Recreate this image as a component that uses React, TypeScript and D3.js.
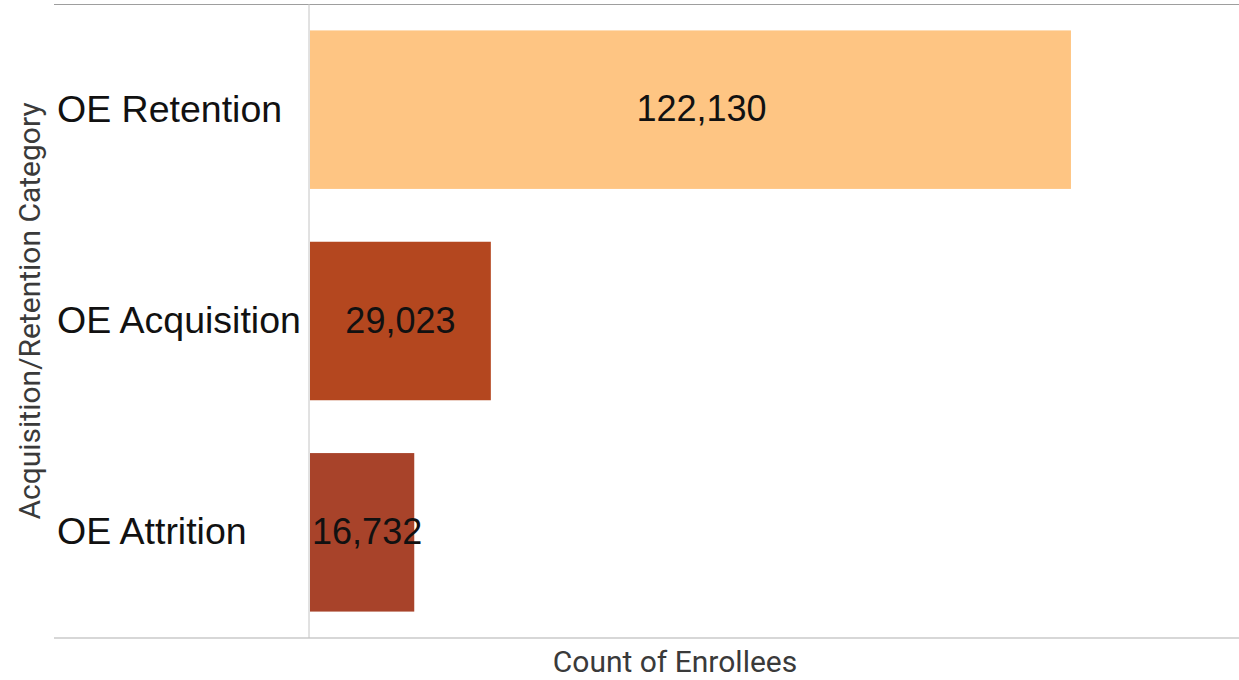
import React from "react";
import * as d3 from "d3";

// Enrollee counts by acquisition/retention category
const categories = ["OE Retention", "OE Acquisition", "OE Attrition"];
const counts = [122130, 29023, 16732];
const barColors = ["#FEC583", "#B4471F", "#A8432A"];

// horizontal nudge of each value label from its bar's centre
const labelNudge = [11, 0, 5];

const W = 1239;
const H = 680;
const left = 310;
const right = 1239;
const top = 4;
const bottom = 638;

export default function App() {
  const x = d3.scaleLinear().domain([0, 149100]).range([left, right]);
  const y = d3
    .scaleBand<string>()
    .domain(categories)
    .range([top, bottom])
    .paddingInner(0.25)
    .paddingOuter(0.125);
  const fmt = d3.format(",");
  const font = "'Liberation Sans', Arial, sans-serif";
  const titleFont = "Roboto, 'Liberation Sans', sans-serif";

  return (
    <svg
      width={W}
      height={H}
      style={{ position: "absolute", left: 0, top: 0, background: "#fff" }}
    >
      {/* frame lines */}
      <line x1={54} x2={W} y1={top + 0.5} y2={top + 0.5} stroke="#9e9e9e" strokeWidth={1.2} />
      <line x1={54} x2={W} y1={bottom} y2={bottom} stroke="#b0b0b0" strokeWidth={1.2} />
      <line x1={left - 1} x2={left - 1} y1={top} y2={bottom} stroke="#c4c4c4" strokeWidth={1} />

      {categories.map((c, i) => {
        const y0 = y(c)!;
        const bw = y.bandwidth();
        const x1 = x(counts[i]);
        return (
          <g key={c}>
            <rect x={x(0)} y={y0} width={x1 - x(0)} height={bw} fill={barColors[i]} />
            <text
              x={57}
              y={y0 + bw / 2 - 1}
              dy="0.35em"
              fontFamily={font}
              fontSize={37.5}
              fill="#111"
            >
              {c}
            </text>
            <text
              x={(x(0) + x1) / 2 + labelNudge[i]}
              y={y0 + bw / 2 - 1}
              dy="0.35em"
              textAnchor="middle"
              fontFamily={font}
              fontSize={36}
              fill="#111"
            >
              {fmt(counts[i])}
            </text>
          </g>
        );
      })}

      {/* axis titles */}
      <text
        transform={`translate(40,${(top + bottom) / 2 - 10}) rotate(-90)`}
        textAnchor="middle"
        fontFamily={titleFont}
        fontSize={30}
        fill="#3a3a3a"
      >
        Acquisition/Retention Category
      </text>
      <text
        x={675}
        y={672}
        textAnchor="middle"
        fontFamily={titleFont}
        fontSize={30}
        fill="#3a3a3a"
      >
        Count of Enrollees
      </text>
    </svg>
  );
}
